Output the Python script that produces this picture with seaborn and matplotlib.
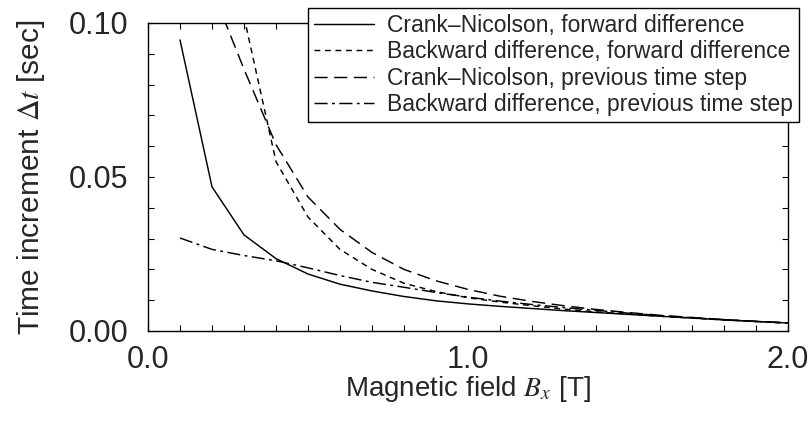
import matplotlib
matplotlib.use("Agg")
import matplotlib.pyplot as plt
from matplotlib.ticker import MultipleLocator, FixedLocator, FixedFormatter
import seaborn as sns
import pandas as pd

# Magnetic field values [T]
field = [0.1, 0.2, 0.3, 0.4, 0.5, 0.6, 0.7, 0.8, 0.9, 1.0,
         1.1, 1.2, 1.3, 1.4, 1.5, 1.6, 1.7, 1.8, 1.9, 2.0]

# Maximum stable time increment [sec] for each scheme
cn_forward = [0.0945, 0.0468, 0.0312, 0.0235, 0.0185, 0.0152, 0.0130, 0.0112, 0.0098, 0.0088,
              0.0080, 0.0073, 0.0066, 0.0060, 0.0054, 0.0048, 0.0042, 0.0036, 0.0031, 0.0026]
bd_forward_field = field[2:]
bd_forward = [0.1020, 0.0550, 0.0370, 0.0265, 0.0200, 0.0155, 0.0128, 0.0108,
              0.0094, 0.0082, 0.0071, 0.0062, 0.0055, 0.0048, 0.0042, 0.0036, 0.0031, 0.0026]
cn_previous_field = field[1:]
cn_previous = [0.1110, 0.0850, 0.0605, 0.0435, 0.0330, 0.0255, 0.0200, 0.0163, 0.0135,
               0.0113, 0.0096, 0.0082, 0.0070, 0.0060, 0.0051, 0.0044, 0.0037, 0.0031, 0.0026]
bd_previous = [0.0302, 0.0265, 0.0245, 0.0228, 0.0205, 0.0180, 0.0158, 0.0142, 0.0125, 0.0110,
               0.0097, 0.0086, 0.0076, 0.0067, 0.0058, 0.0050, 0.0043, 0.0037, 0.0031, 0.0026]

labels = ["Crank\u2013Nicolson, forward difference",
          "Backward difference, forward difference",
          "Crank\u2013Nicolson, previous time step",
          "Backward difference, previous time step"]

x_ticks = [0.0, 1.0, 2.0]
x_ticklabels = ["0.0", "1.0", "2.0"]
y_ticks = [0.00, 0.05, 0.10]
y_ticklabels = ["0.00", "0.05", "0.10"]

sns.set_theme(style="ticks")
plt.rcParams["font.family"] = ["Liberation Sans", "DejaVu Sans"]
plt.rcParams["mathtext.fontset"] = "stix"

fig = plt.figure(figsize=(8.09, 4.25), dpi=100)
ax = fig.add_axes([148 / 809, 94 / 425, 640 / 809, 308 / 425])

series = [
    (field, cn_forward, "-"),
    (bd_forward_field, bd_forward, (0, (4.0, 3.2))),
    (cn_previous_field, cn_previous, (0, (9.0, 4.5))),
    (field, bd_previous, (0, (9.0, 3.0, 2.0, 3.0))),
]
for (xs, ys, ls), lab in zip(series, labels):
    df = pd.DataFrame({"B": xs, "dt": ys})
    sns.lineplot(data=df, x="B", y="dt", ax=ax, color="black",
                 linestyle=ls, linewidth=1.05, label=lab)

ax.set_xlim(0, 2.0)
ax.set_ylim(0, 0.10)

ax.xaxis.set_major_locator(FixedLocator(x_ticks))
ax.xaxis.set_major_formatter(FixedFormatter(x_ticklabels))
ax.yaxis.set_major_locator(FixedLocator(y_ticks))
ax.yaxis.set_major_formatter(FixedFormatter(y_ticklabels))
ax.xaxis.set_minor_locator(MultipleLocator(0.1))
ax.yaxis.set_minor_locator(MultipleLocator(0.01))

ax.tick_params(which="both", direction="in", top=True, right=True,
               length=4, width=0.8, color="black")
ax.tick_params(axis="y", which="major", labelsize=22, pad=14)
ax.tick_params(axis="x", which="major", labelsize=22, pad=10)
for s in ax.spines.values():
    s.set_linewidth(1.0)
    s.set_color("black")

ax.set_xlabel(r"Magnetic field $B_x$ [T]", fontsize=20, labelpad=-1)
ax.set_ylabel(r"Time increment $\Delta t$ [sec]", fontsize=21.5, labelpad=16)

leg = ax.legend(loc="upper right", bbox_to_anchor=(799 / 809, 1 - 8 / 425),
                bbox_transform=fig.transFigure, borderaxespad=0,
                fontsize=16.5, frameon=True, fancybox=False, framealpha=1,
                edgecolor="black", borderpad=0.25, labelspacing=0.15,
                handlelength=2.6, handletextpad=0.6)
leg.get_frame().set_linewidth(1.0)

fig.savefig("out.png", dpi=100, facecolor="white")
